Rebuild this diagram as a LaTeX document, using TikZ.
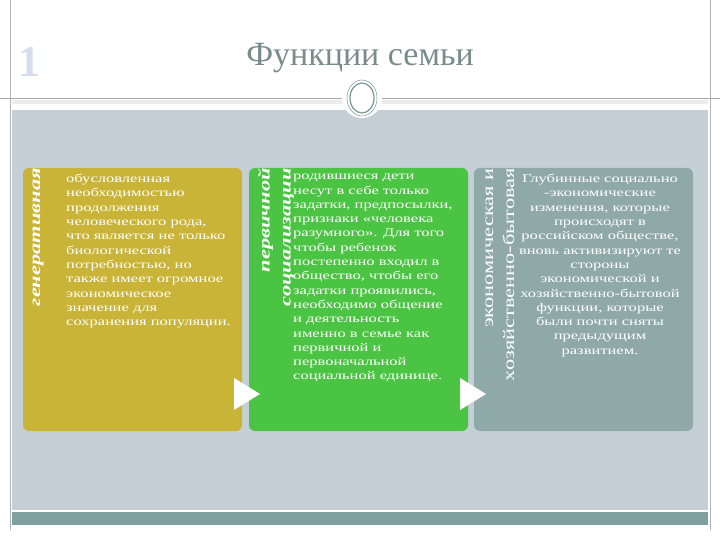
\documentclass[tikz,border=0pt]{standalone}
\usepackage{fontspec}
\setmainfont{Liberation Serif}
\newfontfamily\wide[FakeStretch=1.4]{Liberation Serif}
\begin{document}
\begin{tikzpicture}[x=1pt,y=-1pt,
 box/.style={rounded corners=6pt},
 body/.style={anchor=north west,text=white,font=\wide\fontsize{11.8}{14.3}\selectfont,align=left,inner sep=0pt},
 vlab/.style={rotate=90,anchor=east,text=white,font=\wide\fontsize{16}{21}\selectfont\bfseries\itshape,inner sep=0pt,align=right},
 tri/.style={fill=white}]
\useasboundingbox (0,0) rectangle (720,540);
\fill[white] (0,0) rectangle (720,540);
\draw[gray!60] (10,0) -- (10,530) (710,0) -- (710,530);
\draw[gray!70] (0,98) -- (720,98);
\fill[gray!15] (12,100) rectangle (708,104);
\fill[fill={rgb,255:red,197;green,208;blue,214}] (12,110) rectangle (708,510);
\fill[fill={rgb,255:red,127;green,160;blue,160}] (12,512) rectangle (708,525);
\node[font=\fontsize{44}{44}\selectfont\bfseries,text={rgb,255:red,215;green,222;blue,235},draw=none] (one) at (29,62) {1};
\node[text={rgb,255:red,120;green,140;blue,140},font=\fontsize{34}{34}\selectfont] (title) at (360,58) {Функции семьи};
\fill[white] (362,98) circle (20);
\draw[line width=1.2pt,color={rgb,255:red,120;green,150;blue,150}] (362,98) ellipse (12 and 15);
\draw[line width=0.5pt,color={rgb,255:red,120;green,150;blue,150}] (362,98) ellipse (15 and 18);
\fill[box,fill={rgb,255:red,201;green,180;blue,56}] (23,168) rectangle (242,431);
\fill[box,fill={rgb,255:red,76;green,196;blue,67}] (249,168) rectangle (468,431);
\fill[box,fill={rgb,255:red,143;green,169;blue,168}] (474,168) rectangle (693,431);
\fill[tri] (234,378) -- (234,410) -- (260,394) -- cycle;
\fill[tri] (460,378) -- (460,410) -- (486,394) -- cycle;
\node[vlab] (l1) at (38,168) {генеративная};
\node[vlab] (l2) at (276,168) {первичной\\социализации};
\node[vlab,font=\wide\fontsize{16}{21}\selectfont] (l3) at (500,168) {экономическая и\\хозяйственно-бытовая};
\node[body] (t1) at (66,174) {обусловленная\\необходимостью\\продолжения\\человеческого рода,\\что является не только\\биологической\\потребностью, но\\также имеет огромное\\экономическое\\значение для\\сохранения популяции.};
\node[body] (t2) at (293,174) {родившиеся дети\\несут в себе только\\задатки, предпосылки,\\признаки «человека\\разумного». Для того\\чтобы ребенок\\постепенно входил в\\общество, чтобы его\\задатки проявились,\\необходимо общение\\и деятельность\\именно в семье как\\первичной и\\первоначальной\\социальной единице.};
\node[body,align=center,anchor=north] (t3) at (600,174) {Глубинные социально\\-экономические\\изменения, которые\\происходят в\\российском обществе,\\вновь активизируют те\\стороны\\экономической и\\хозяйственно-бытовой\\функции, которые\\были почти сняты\\предыдущим\\развитием.};
\end{tikzpicture}
\end{document}
